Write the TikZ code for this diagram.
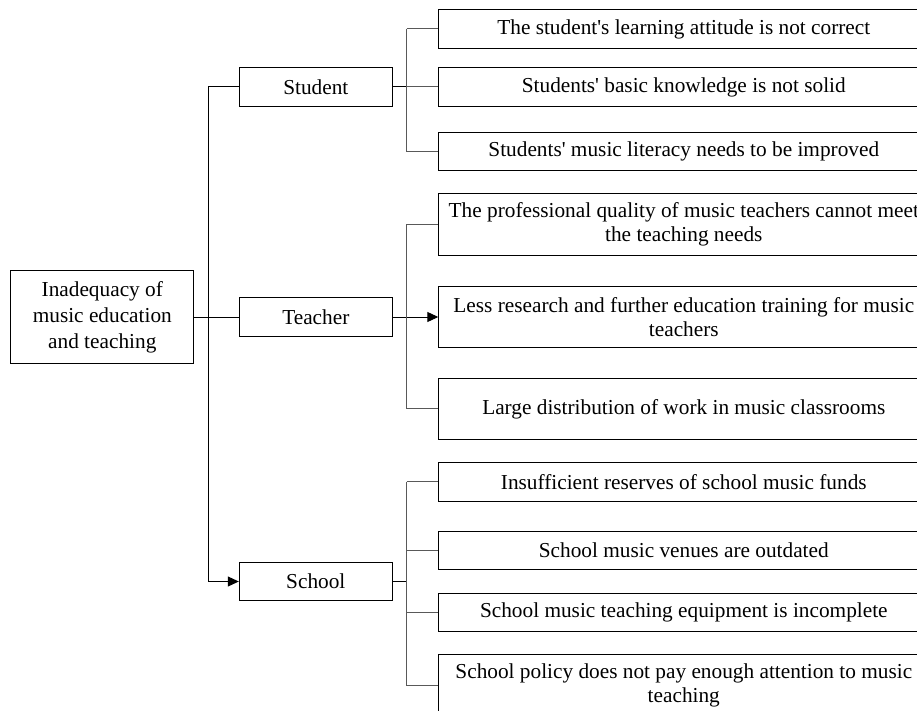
\documentclass[tikz,border=0pt]{standalone}
\usepackage{fontspec}
\setmainfont{Liberation Serif}
\usetikzlibrary{arrows.meta}
\newcommand{\ap}{\textquotesingle}
\begin{document}
\begin{tikzpicture}[x=1pt,y=-1pt,line width=1pt,
  box/.style={draw=black,rectangle,inner sep=4pt,align=center,font=\fontsize{21.3}{26}\selectfont},
  cbox/.style={box,minimum width=490pt,anchor=west,font=\fontsize{21.3}{24}\selectfont},
  br/.style={draw=black!65},
  arr/.style={-{Triangle[length=11pt,width=10pt]}}]
\useasboundingbox (0,0) rectangle (917,711);
% root and middle level
\node[box,minimum width=183.3pt,minimum height=92.6pt] (root) at (102.3,317) {Inadequacy of\\music education\\and teaching};
\node[box,minimum width=153pt,minimum height=38.5pt] (student) at (315.8,87) {Student};
\node[box,minimum width=153pt,minimum height=38.5pt] (teacher) at (315.8,317) {Teacher};
\node[box,minimum width=153pt,minimum height=38.5pt] (school) at (315.8,581.5) {School};
% leaves
\node[cbox,minimum height=38.6pt] (s1) at (438.3,29) {The student\ap s learning attitude is not correct};
\node[cbox,minimum height=38.6pt] (s2) at (438.3,87) {Students\ap{} basic knowledge is not solid};
\node[cbox,minimum height=38.6pt] (s3) at (438.3,151.7) {Students\ap{} music literacy needs to be improved};
\node[cbox,minimum height=61pt] (t1) at (438.3,224.5) {The professional quality of music teachers cannot meet\\the teaching needs};
\node[cbox,minimum height=61pt] (t2) at (438.3,317) {Less research and further education training for music\\teachers};
\node[cbox,minimum height=61pt] (t3) at (438.3,408.8) {Large distribution of work in music classrooms};
\node[cbox,minimum height=38.3pt] (c1) at (438.3,481.9) {Insufficient reserves of school music funds};
\node[cbox,minimum height=38.3pt] (c2) at (438.3,550.5) {School music venues are outdated};
\node[cbox,minimum height=38.3pt] (c3) at (438.3,612.5) {School music teaching equipment is incomplete};
\node[cbox,minimum height=61pt] (c4) at (438.3,685) {School policy does not pay enough attention to music\\teaching};
% trunk
\coordinate (tx) at (208.3,0);
\coordinate (bx) at (406.7,0);
\draw (root.east) -- (teacher.west);
\draw[arr] (student.west) -- (student.west -| tx) |- (school.west);
% brackets
\draw (student.east) -- (student.east -| bx);
\draw[br] (bx |- s1.west) -- (s1.west);
\draw[br] (bx |- s1.west) |- (s3.west);
\draw[br] (bx |- s2.west) -- (s2.west);
\draw[arr] (teacher.east) -- (t2.west);
\draw[br] (bx |- t1.west) -- (t1.west);
\draw[br] (bx |- t1.west) |- (t3.west);
\draw (school.east) -- (school.east -| bx);
\draw[br] (bx |- c1.west) -- (c1.west);
\draw[br] (bx |- c1.west) |- (c4.west);
\draw[br] (bx |- c2.west) -- (c2.west);
\draw[br] (bx |- c3.west) -- (c3.west);
\end{tikzpicture}
\end{document}
